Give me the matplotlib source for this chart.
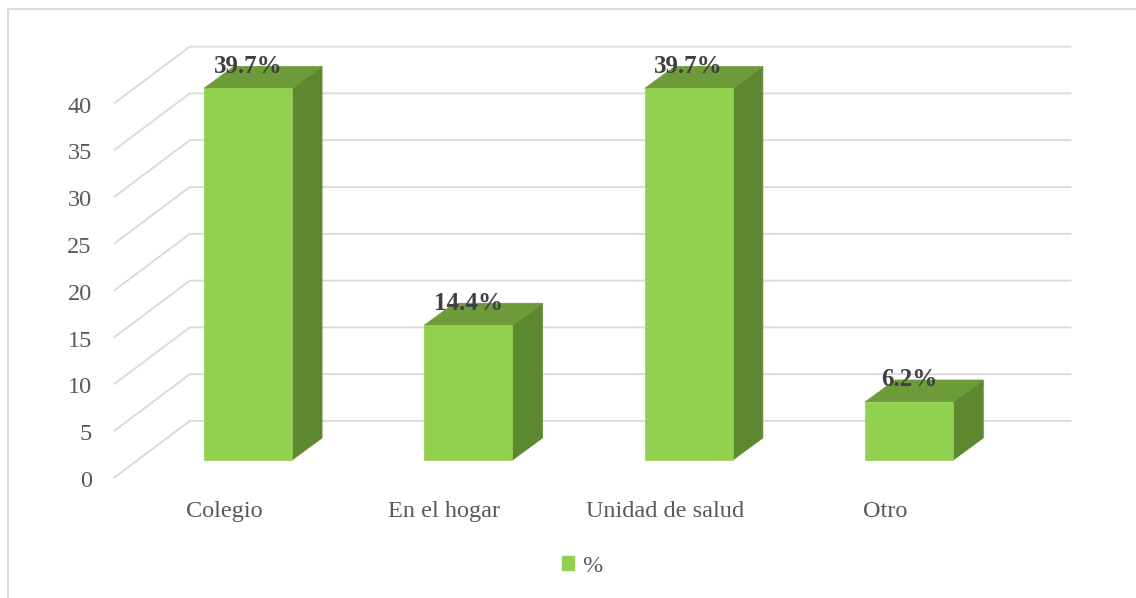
import matplotlib
matplotlib.use("Agg")
import matplotlib.pyplot as plt
import numpy as np
from matplotlib.patches import Polygon, Patch
from matplotlib.lines import Line2D

# ---- data ----
categories = ["Colegio", "En el hogar", "Unidad de salud", "Otro"]
values = [39.7, 14.4, 39.7, 6.2]
value_labels = ["39.7%", "14.4%", "39.7%", "6.2%"]
y_ticks = [0, 5, 10, 15, 20, 25, 30, 35, 40]
series_name = "%"

# ---- style ----
FRONT = "#92D050"
SIDE = "#5E8830"
TOP = "#6D9B39"
GRID = "#D9D9D9"
TICK_COLOR = "#595959"
LABEL_COLOR = "#404040"
SERIF = ["Liberation Serif", "DejaVu Serif"]

W, H = 1136, 598
fig = plt.figure(figsize=(W / 100, H / 100), dpi=100)
fig.patch.set_facecolor("white")

# axes = the front plane of the bars
ax = fig.add_axes([137.8 / W, (H - 460) / H, 881.6 / W, 421.2 / H])
ax.set_xlim(-0.5, len(categories) - 0.5)
ax.set_ylim(0, 45)
ax.axis("off")

# oblique depth offsets (display pixels, +y is up)
BAR_BACK = np.array([30.0, 22.0])
WALL = np.array([52.0, 39.0])
FLOOR_FRONT = np.array([-24.0, -18.0])
PT = 72.0 / fig.dpi


def proj(x, y, depth):
    p = ax.transData.transform((x, y)) + depth
    return ax.transData.inverted().transform(p)


x_left, x_right = ax.get_xlim()

# back-wall gridlines with the receding floor/side segments
for v in y_ticks:
    pts = np.array([proj(x_left, v, FLOOR_FRONT), proj(x_left, v, WALL),
                    proj(x_right, v, WALL)])
    ax.plot(pts[:, 0], pts[:, 1], color=GRID, lw=1.3, clip_on=False,
            zorder=1, solid_capstyle="butt")
    ax.annotate(str(v), (x_left, v),
                xytext=((FLOOR_FRONT[0] - 22) * PT, (FLOOR_FRONT[1] - 9) * PT),
                textcoords="offset points", ha="right", va="baseline",
                fontsize=17.5, color=TICK_COLOR, family=SERIF,
                annotation_clip=False)

# 3-D style bars
half = 0.2
for i, v in enumerate(values):
    x0, x1 = i - half, i + half
    side = [proj(x1, 0, 0), proj(x1, 0, BAR_BACK), proj(x1, v, BAR_BACK),
            proj(x1, v, 0)]
    top = [proj(x0, v, 0), proj(x1, v, 0), proj(x1, v, BAR_BACK),
           proj(x0, v, BAR_BACK)]
    front = [(x0, 0), (x1, 0), (x1, v), (x0, v)]
    for poly, col in ((side, SIDE), (top, TOP), (front, FRONT)):
        ax.add_patch(Polygon(poly, closed=True, facecolor=col,
                             edgecolor=col, lw=0.5, clip_on=False, zorder=3))
    ax.annotate(value_labels[i], (i, v), xytext=(0, 15.5 * PT),
                textcoords="offset points", ha="center", va="baseline",
                fontsize=18, fontweight="bold", color=LABEL_COLOR,
                family=SERIF, annotation_clip=False, zorder=5)
    ax.annotate(categories[i], (i, 0),
                xytext=(FLOOR_FRONT[0] * PT, -57 * PT),
                textcoords="offset points", ha="center", va="baseline",
                fontsize=17.5, color=TICK_COLOR, family=SERIF,
                annotation_clip=False)

# legend
leg = fig.legend(handles=[Patch(facecolor=FRONT, edgecolor=FRONT)],
                 labels=[series_name], loc="center",
                 bbox_to_anchor=(582 / W, 1 - 566 / H), frameon=False,
                 prop={"family": SERIF, "size": 17.5},
                 handlelength=0.5, handleheight=0.5, handletextpad=0.35)
for t in leg.get_texts():
    t.set_color(TICK_COLOR)

# chart-area border (left and top edges)
fig.add_artist(Line2D([7.5 / W, 7.5 / W], [0, 1 - 9 / H],
                      transform=fig.transFigure, color=GRID, lw=1.3))
fig.add_artist(Line2D([7.5 / W, 1], [1 - 9 / H, 1 - 9 / H],
                      transform=fig.transFigure, color=GRID, lw=1.3))

fig.savefig("out.png", dpi=100, facecolor="white")
